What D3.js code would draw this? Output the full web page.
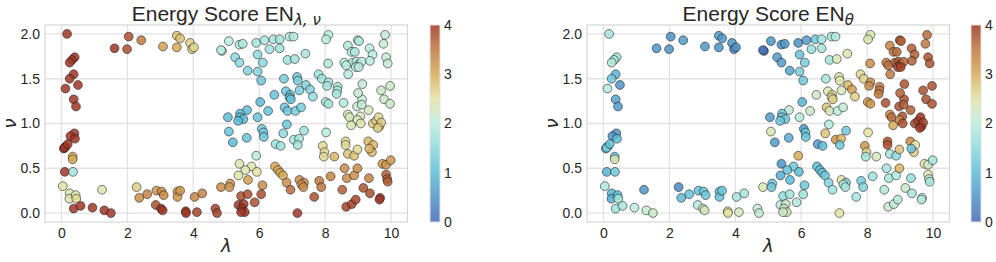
<!DOCTYPE html>
<html>
<head>
<meta charset="utf-8">
<title>Energy scores</title>
<script src="https://cdn.jsdelivr.net/npm/d3@7"></script>
<style>
	body { margin: 0; background: #fff; }
	svg { display: block; }
	.tick text, .cbar text { font-family: "Liberation Sans", Arial, sans-serif; font-size: 14px; fill: #262626; }
	.title { font-family: "Liberation Sans", Arial, sans-serif; font-size: 21px; fill: #262626; }
	.sym { font-family: "DejaVu Sans", sans-serif; font-style: italic; fill: #262626; }
</style>
</head>
<body>
<svg width="996" height="262"></svg>
<script>

// sample points (same λ, ν in both panels)
var lambdaVals = [
	0.17,0.40,0.32,0.25,0.37,0.25,0.12,0.50,0.37,0.44,0.39,0.27,0.41,0.12,0.07,0.10,0.19,0.34,0.34,0.10,
	0.35,0.04,0.25,0.24,0.43,0.45,0.37,0.58,0.94,1.23,1.30,1.50,1.61,1.99,2.04,2.42,2.28,2.36,2.60,3.08,
	3.50,3.60,3.50,3.90,3.96,4.02,2.88,3.04,3.10,3.52,3.52,3.60,2.86,3.02,3.07,3.77,3.78,4.11,4.04,4.27,
	4.67,4.72,4.84,4.87,4.84,
	5.08,5.40,5.50,5.91,6.16,6.43,6.62,6.92,7.04,6.31,6.62,5.27,5.40,5.95,6.11,5.65,5.95,6.06,6.86,7.08,
	7.40,6.75,7.15,7.17,7.42,7.54,7.63,7.80,7.90,8.10,8.06,8.02,8.10,8.38,8.37,8.35,8.56,6.81,6.94,6.92,
	6.96,7.22,6.46,6.03,6.77,6.86,7.10,7.27,6.27,5.63,5.42,5.41,5.52,5.36,5.05,5.95,6.84,5.08,5.20,5.62,
	6.08,6.13,6.14,6.73,6.50,6.65,7.36,7.05,7.21,7.17,8.03,7.93,7.98,7.96,8.28,8.62,8.62,8.69,8.88,8.98,
	9.31,9.46,9.42,9.34,8.69,8.74,8.79,9.07,8.98,9.08,9.32,9.45,9.55,9.62,9.65,9.70,9.60,9.70,9.97,9.79,
	9.97,9.12,9.00,9.13,8.97,9.11,
	8.10,8.03,8.09,8.69,8.80,8.90,8.99,9.03,8.84,8.95,9.02,9.11,8.93,9.02,8.58,8.64,8.70,9.35,9.44,9.36,
	9.77,9.82,9.85,9.90,
	5.40,5.77,5.58,5.93,5.37,5.91,5.12,5.10,5.66,6.10,5.45,5.65,6.06,5.86,5.37,5.53,5.48,5.56,5.45,6.48,
	6.57,6.64,6.72,6.83,6.95,7.22,7.36,7.28,7.34,7.16,7.67,7.82,7.88,8.17,8.59,8.66,8.88,8.98,9.33,8.52,
	9.16,9.36,8.64,8.81,8.93,9.67,9.65,9.74,9.85,9.99,9.85,9.88,9.90
];
var nuVals = [
	2.00,1.74,1.71,1.68,1.55,1.50,1.39,1.43,1.27,1.19,0.89,0.86,0.83,0.74,0.72,0.73,0.77,0.63,0.60,0.46,
	0.46,0.30,0.22,0.16,0.20,0.16,0.05,0.08,0.06,0.26,0.03,0.00,1.84,1.83,1.97,1.93,0.29,0.17,0.21,1.86,
	1.98,1.95,1.85,1.90,1.83,1.85,0.25,0.24,0.20,0.24,0.18,0.25,0.09,0.05,0.03,0.02,0.00,0.01,0.18,0.22,
	0.05,0.00,0.29,1.81,1.82,
	1.92,1.88,1.89,1.90,1.93,1.94,1.94,1.97,1.97,1.83,1.84,1.74,1.68,1.77,1.68,1.59,1.58,1.48,1.71,1.72,
	1.78,1.50,1.52,1.48,1.43,1.38,1.30,1.55,1.50,1.46,1.42,1.24,1.22,1.41,1.37,1.33,1.23,1.36,1.32,1.29,
	1.27,1.37,1.32,1.24,1.18,1.14,1.14,1.18,1.14,1.15,1.11,1.07,1.05,1.03,1.07,1.07,0.99,0.91,0.79,0.84,
	0.94,0.90,0.85,0.89,0.77,0.75,0.92,0.82,0.83,0.76,0.90,0.75,0.68,0.63,0.63,0.80,0.76,0.66,0.64,0.71,
	0.80,0.76,0.68,0.72,1.10,1.07,0.98,1.08,1.04,1.00,1.15,1.00,1.03,1.07,0.97,1.01,0.95,1.37,1.42,1.27,
	1.22,1.27,1.34,1.44,1.19,1.21,
	1.99,1.94,1.67,1.87,1.80,1.80,1.93,1.92,1.68,1.69,1.66,1.69,1.63,1.63,1.68,1.65,1.55,1.84,1.77,1.70,
	1.89,1.99,1.74,1.67,
	0.55,0.52,0.48,0.46,0.42,0.64,0.33,0.29,0.37,0.31,0.19,0.21,0.21,0.12,0.09,0.10,0.05,0.01,0.01,0.52,
	0.48,0.45,0.42,0.34,0.26,0.37,0.34,0.32,0.29,0.00,0.18,0.36,0.29,0.41,0.50,0.39,0.42,0.50,0.39,0.26,
	0.28,0.22,0.07,0.10,0.15,0.17,0.15,0.55,0.54,0.59,0.43,0.38,0.35
];
// energy score EN_{λ,ν}
var scoreLamNu = [
	4.0,4.0,4.0,4.0,4.0,4.0,4.0,4.0,4.0,4.0,4.0,4.0,4.0,4.0,4.0,4.0,4.0,3.0,3.0,4.0,
	1.8,2.5,2.4,2.4,2.4,2.6,4.0,4.0,4.0,2.4,4.0,4.0,4.0,3.8,3.8,3.5,2.7,3.3,3.4,3.1,
	2.8,2.8,3.0,2.7,2.7,2.6,3.2,3.3,3.3,3.2,3.2,3.2,3.8,4.0,4.0,4.0,4.0,3.9,3.4,3.4,
	3.9,3.9,3.3,2.0,2.0,
	2.0,1.9,1.9,1.8,1.8,1.8,1.8,1.9,1.9,1.7,1.7,1.5,1.5,1.5,1.5,1.4,1.4,1.2,1.7,1.7,
	1.8,1.3,1.3,1.3,1.4,1.4,1.6,1.7,1.7,1.8,1.8,1.8,1.8,1.8,1.8,1.8,1.9,1.2,1.1,1.1,
	1.1,1.3,1.1,1.0,1.2,1.2,1.3,1.3,1.1,1.0,1.0,1.0,1.0,1.0,1.0,1.1,1.2,1.1,1.0,1.1,
	1.2,1.2,1.2,1.5,1.7,1.7,1.7,1.8,1.8,1.8,2.0,2.6,2.6,2.6,2.9,2.6,2.6,2.8,2.8,2.6,
	2.9,2.9,2.9,2.9,2.3,2.3,2.4,2.3,2.3,2.4,2.3,2.7,2.7,2.6,2.8,2.7,2.7,2.2,2.2,2.2,
	2.2,2.1,2.1,2.1,2.1,2.1,
	2.0,2.0,1.9,1.9,1.9,1.9,1.9,1.9,2.0,2.0,2.0,2.0,2.0,2.0,2.0,2.0,2.0,2.0,2.0,2.0,
	2.1,2.1,2.1,2.1,
	2.4,2.4,2.4,2.5,2.5,2.0,3.2,3.2,3.1,3.3,3.8,3.8,3.8,3.8,4.0,4.0,4.0,4.0,4.0,3.0,
	3.0,3.0,3.0,3.3,3.6,3.3,3.3,3.3,3.3,4.0,3.8,3.5,3.5,3.4,3.3,3.3,3.3,3.3,3.4,3.7,
	3.8,3.8,3.9,3.9,3.9,4.0,4.0,3.2,3.2,3.2,3.7,3.7,3.7
];
// energy score EN_θ
var scoreTheta = [
	1.8,1.8,1.8,1.9,0.9,1.2,1.9,0.5,0.7,0.6,0.5,0.5,1.0,1.2,1.1,1.3,1.1,1.1,2.4,0.9,
	1.2,1.9,0.9,0.8,1.0,1.8,1.7,1.8,2.0,0.5,2.1,2.2,0.5,0.5,0.5,0.6,0.4,1.0,1.1,0.6,
	0.6,0.6,0.5,0.5,0.3,0.5,1.1,1.2,1.2,1.1,1.1,1.2,1.9,2.3,2.3,2.5,2.5,2.3,1.8,1.8,
	2.1,2.1,2.4,0.2,0.1,
	0.5,0.5,0.6,0.5,0.6,1.2,1.8,1.8,1.9,1.6,1.8,0.6,0.6,1.1,1.3,0.7,1.3,1.2,1.8,2.3,
	2.4,1.8,2.4,2.4,2.9,3.1,2.7,2.6,2.6,3.3,3.3,3.2,3.2,3.5,3.5,3.5,3.8,2.4,2.6,2.5,
	2.7,2.3,2.2,0.9,2.8,2.3,2.0,2.1,2.2,2.1,1.2,1.2,1.2,1.2,0.6,1.9,1.9,2.4,0.6,0.8,
	0.6,1.1,1.1,2.8,0.6,1.0,1.2,3.2,2.9,1.2,2.5,3.2,2.7,1.8,2.3,3.8,3.8,1.8,1.5,2.8,
	3.3,2.5,2.7,1.2,3.3,3.6,3.0,3.8,3.4,3.8,3.7,3.9,3.9,4.0,4.0,3.9,4.0,3.8,3.8,3.8,
	3.8,3.8,3.7,3.8,3.8,3.7,
	2.4,2.4,3.3,3.4,3.5,3.6,3.8,3.7,3.7,3.8,3.8,3.6,3.9,3.9,3.5,3.6,3.5,3.7,3.7,3.7,
	3.5,3.6,3.8,3.8,
	0.5,1.2,1.1,1.0,0.8,3.0,1.2,1.2,1.0,1.2,1.6,1.7,1.7,1.9,2.0,2.2,2.2,2.3,2.2,1.0,
	1.1,1.2,1.2,1.4,1.7,2.5,1.4,1.9,1.8,2.5,1.8,1.3,1.4,1.7,1.8,1.8,1.9,2.9,1.6,1.9,
	2.2,1.8,2.2,2.1,1.9,1.9,1.9,2.5,2.2,1.8,2.4,2.1,1.8
];

var xTicks = [0, 2, 4, 6, 8, 10];
var yTicks = [0.0, 0.5, 1.0, 1.5, 2.0];
var cbarTicks = [0, 1, 2, 3, 4];

// colormap stops, blue -> cyan -> pale -> gold -> brick red
var cmapDomain = [0, 0.5, 1, 1.5, 2, 2.5, 3, 3.5, 4];
var cmapRange = ["#4468b4", "#4e92c6", "#5cbcd6", "#8ad8de", "#b9ecdd", "#e4e3a4", "#d6aa56", "#c07840", "#9e3624"];

(function() {
	var svg = d3.select("svg");
	var color = d3.scaleLinear().domain(cmapDomain).range(cmapRange).clamp(true);

	var panels = [
		{ left: 45, right: 407.5, cbx: 430, scores: scoreLamNu, sub: "λ, ν" },
		{ left: 587, right: 949.5, cbx: 971, scores: scoreTheta, sub: "θ" }
	];
	var plotTop = 25, plotBottom = 222;

	var grad = svg.append("defs").append("linearGradient")
		.attr("id", "cmapgrad")
		.attr("x1", 0).attr("y1", 1).attr("x2", 0).attr("y2", 0);
	grad.selectAll("stop")
		.data(cmapDomain)
		.enter().append("stop")
		.attr("offset", function(d) { return d / 4; })
		.attr("stop-color", function(d) { return color(d); });

	panels.forEach(function(p) {
		var x = d3.scaleLinear().domain([-0.5, 10.5]).range([p.left, p.right]);
		var y = d3.scaleLinear().domain([-0.1, 2.1]).range([plotBottom, plotTop]);
		var g = svg.append("g");

		// grid
		g.append("g").selectAll("line")
			.data(xTicks).enter().append("line")
			.attr("x1", x).attr("x2", x).attr("y1", plotTop).attr("y2", plotBottom)
			.attr("stroke", "#e2e2e2").attr("stroke-width", 1.3);
		g.append("g").selectAll("line")
			.data(yTicks).enter().append("line")
			.attr("x1", p.left).attr("x2", p.right).attr("y1", y).attr("y2", y)
			.attr("stroke", "#e2e2e2").attr("stroke-width", 1.3);

		// axes (labels only)
		var xAxis = g.append("g")
			.attr("transform", "translate(0," + plotBottom + ")")
			.call(d3.axisBottom(x).tickValues(xTicks).tickSize(0).tickPadding(6).tickFormat(d3.format("d")));
		var yAxis = g.append("g")
			.attr("transform", "translate(" + p.left + ",0)")
			.call(d3.axisLeft(y).tickValues(yTicks).tickSize(0).tickPadding(5).tickFormat(d3.format(".1f")));
		xAxis.select(".domain").remove();
		yAxis.select(".domain").remove();

		// points
		var pts = d3.range(lambdaVals.length);
		g.append("g").selectAll("circle")
			.data(pts).enter().append("circle")
			.attr("cx", function(i) { return x(lambdaVals[i]); })
			.attr("cy", function(i) { return y(nuVals[i]); })
			.attr("r", 4.4)
			.attr("fill", function(i) { return color(p.scores[i]); })
			.attr("fill-opacity", 0.85)
			.attr("stroke", "#1a1a1a")
			.attr("stroke-opacity", 0.8)
			.attr("stroke-width", 0.7);

		// frame
		g.append("rect")
			.attr("x", p.left).attr("y", plotTop)
			.attr("width", p.right - p.left).attr("height", plotBottom - plotTop)
			.attr("fill", "none").attr("stroke", "#d6d6d6").attr("stroke-width", 1.2);

		// title
		var cx = (p.left + p.right) / 2;
		var t = g.append("text").attr("class", "title")
			.attr("x", cx).attr("y", 21).attr("text-anchor", "middle");
		t.append("tspan").text("Energy Score EN");
		t.append("tspan").attr("class", "sym").attr("font-size", 15).attr("dy", 4).text(p.sub);

		// axis labels
		g.append("text").attr("class", "sym")
			.attr("x", cx).attr("y", 252).attr("text-anchor", "middle")
			.attr("font-size", 18).text("λ");
		g.append("text").attr("class", "sym")
			.attr("transform", "translate(" + (p.left - 29) + "," + ((plotTop + plotBottom) / 2) + ") rotate(-90)")
			.attr("text-anchor", "middle")
			.attr("font-size", 18).text("ν");

		// colorbar
		var cy = d3.scaleLinear().domain([0, 4]).range([plotBottom, plotTop]);
		var cb = svg.append("g").attr("class", "cbar");
		cb.append("rect")
			.attr("x", p.cbx).attr("y", plotTop)
			.attr("width", 10).attr("height", plotBottom - plotTop)
			.attr("fill", "url(#cmapgrad)").attr("fill-opacity", 0.85)
			.attr("stroke", "#e0e0e0").attr("stroke-width", 1);
		cb.append("g")
			.attr("transform", "translate(" + (p.cbx + 10) + ",0)")
			.call(d3.axisRight(cy).tickValues(cbarTicks).tickSize(0).tickPadding(4).tickFormat(d3.format("d")))
			.select(".domain").remove();
	});
})();

</script>
</body>
</html>
